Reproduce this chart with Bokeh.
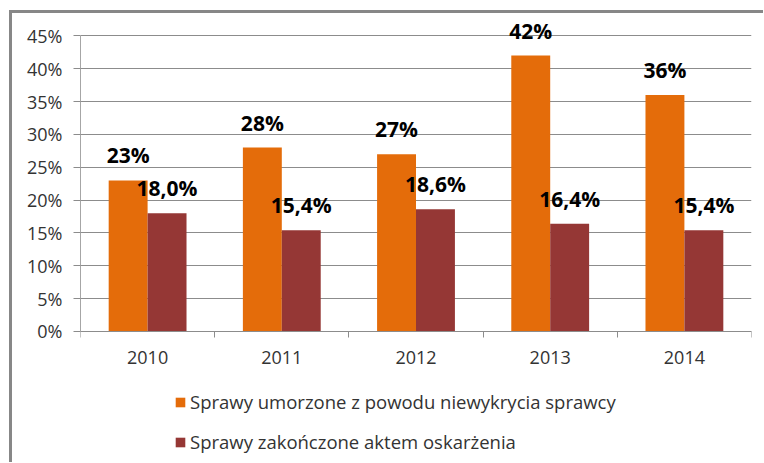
from bokeh.plotting import figure
from bokeh.models import Range1d, FixedTicker, Legend, LegendItem
from bokeh.core.properties import value
from bokeh.embed import file_html
from bokeh.resources import INLINE

years = ["2010", "2011", "2012", "2013", "2014"]
umorzone = [23, 28, 27, 42, 36]
oskarzenie = [18.0, 15.4, 18.6, 16.4, 15.4]
umorzone_labels = ["23%", "28%", "27%", "42%", "36%"]
oskarzenie_labels = ["18,0%", "15,4%", "18,6%", "16,4%", "15,4%"]
y_ticks = [0, 5, 10, 15, 20, 25, 30, 35, 40, 45]
y_tick_labels = ["0%", "5%", "10%", "15%", "20%", "25%", "30%", "35%", "40%", "45%"]
series_names = ["Sprawy umorzone z powodu niewykrycia sprawcy",
                "Sprawy zakończone aktem oskarżenia"]

ORANGE = "#E46C0A"
RED = "#953735"
FONT = "Open Sans"

centers = [i + 0.5 for i in range(len(years))]
x_a = [c - 0.145 for c in centers]
x_b = [c + 0.145 for c in centers]

p = figure(width=751, height=449, output_backend="svg", toolbar_location=None,
           x_range=Range1d(0, len(years)), y_range=Range1d(-19.95, 47.5),
           min_border_left=68, min_border_top=6, min_border_right=12, min_border_bottom=0,
           frame_width=671, frame_height=443)
p.styles = {"margin-left": "9px", "margin-top": "10px",
            "border-top": "3px solid #878787", "border-left": "3px solid #878787"}
p.outline_line_color = None
p.background_fill_color = "white"
p.border_fill_color = "white"

r1 = p.vbar(x=x_a, top=umorzone, width=0.29, fill_color=ORANGE, line_color=None)
r2 = p.vbar(x=x_b, top=oskarzenie, width=0.29, fill_color=RED, line_color=None)

for xs, ys, labs in ((x_a, umorzone, umorzone_labels), (x_b, oskarzenie, oskarzenie_labels)):
    p.text(x=xs, y=ys, text=labs, text_font=value(FONT), text_font_style="bold",
           text_font_size="21px", text_align="center", text_baseline="alphabetic",
           y_offset=-25, text_color="black")

# y axis
p.yaxis.ticker = FixedTicker(ticks=y_ticks)
p.yaxis.bounds = (0, 45)
p.yaxis.major_label_overrides = {t: l for t, l in zip(y_ticks, y_tick_labels)}
p.yaxis.major_tick_out = 7
p.yaxis.major_tick_in = 0
p.yaxis.minor_tick_line_color = None
p.yaxis.axis_line_color = "#A6A6A6"
p.yaxis.major_tick_line_color = "#8C8C8C"
p.yaxis.major_label_text_font = FONT
p.yaxis.major_label_text_font_size = "18px"
p.yaxis.major_label_text_color = "#333333"
p.yaxis.major_label_standoff = 11

# x axis, drawn at 0%
p.xaxis.fixed_location = 0
p.xaxis.ticker = FixedTicker(ticks=centers, minor_ticks=list(range(len(years) + 1)))
p.xaxis.major_label_overrides = {c: y for c, y in zip(centers, years)}
p.xaxis.major_tick_line_color = None
p.xaxis.minor_tick_out = 6
p.xaxis.minor_tick_in = 0
p.xaxis.minor_tick_line_color = "#8C8C8C"
p.xaxis.axis_line_color = "#8C8C8C"
p.xaxis.major_label_text_font = FONT
p.xaxis.major_label_text_font_size = "18px"
p.xaxis.major_label_text_color = "#333333"
p.xaxis.major_label_standoff = 14

p.xgrid.visible = False
p.ygrid.ticker = FixedTicker(ticks=y_ticks)
p.ygrid.grid_line_color = "#8C8C8C"

legend = Legend(items=[LegendItem(label=series_names[0], renderers=[r1]),
                       LegendItem(label=series_names[1], renderers=[r2])],
                location=(94, 8), orientation="vertical",
                glyph_width=12, glyph_height=12, label_height=25, spacing=15,
                label_standoff=4, padding=0, margin=0,
                label_text_font=FONT, label_text_font_size="18.5px",
                label_text_color="#333333",
                border_line_color=None, background_fill_alpha=0)
p.add_layout(legend, "center")

open("out.html", "w").write(file_html(p, INLINE))
